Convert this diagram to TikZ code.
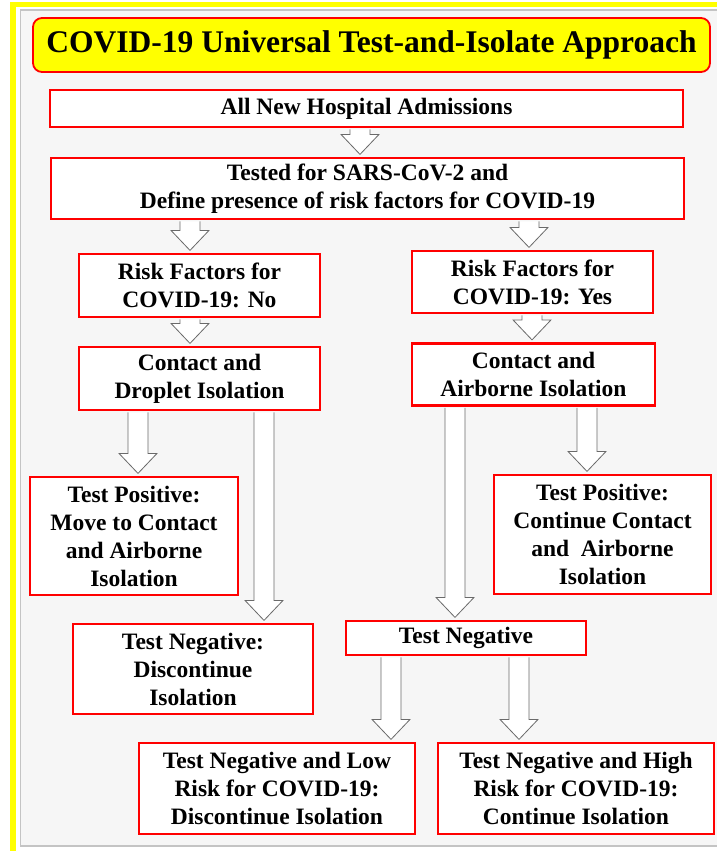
\documentclass[tikz,border=0pt]{standalone}
\usepackage{fontspec}
\setmainfont{Liberation Serif}
\usetikzlibrary{calc}
\definecolor{PanelGray}{HTML}{F6F6F6}
\definecolor{EdgeGray}{HTML}{C4C4C4}
\definecolor{ArrowGray}{HTML}{6A6A6A}
\definecolor{FrameYellow}{HTML}{FFFF00}

% hollow block arrow at x=#1 from node #2 down to node #3
\newcommand\blockarrow[3]{%
  \path[draw=ArrowGray, fill=white, line width=0.8pt, line join=miter]
    let \p1=(#2.south), \p2=(#3.north) in
    ({#1-10}, \y1-1.3pt) -- ({#1-10}, \y2+22.5pt) -- ({#1-19}, \y2+22.5pt)
    -- (#1, \y2+2.5pt) -- ({#1+19}, \y2+22.5pt) -- ({#1+10}, \y2+22.5pt)
    -- ({#1+10}, \y1-1.3pt);}

\begin{document}
\begin{tikzpicture}[x=1pt, y=-1pt,
  box/.style={draw=red, line width=2.2pt, fill=white, align=center, inner sep=0pt,
    font=\rmfamily\fontsize{23.5}{28}\selectfont\bfseries},
  heading/.style={draw=red, line width=1.8pt, fill=FrameYellow, rounded corners=9pt,
    inner sep=0pt, font=\rmfamily\fontsize{31.5}{36}\selectfont\bfseries}]
\useasboundingbox (0,0) rectangle (717,851);
\fill[white] (0,0) rectangle (717,851);
% frame
\fill[FrameYellow] (10,2) rectangle (717,7);
\fill[FrameYellow] (10,2) rectangle (16,851);
\filldraw[fill=PanelGray, draw=EdgeGray, line width=1.2pt] (20.5,10) rectangle (720,846);

\node[heading, minimum width=677pt, minimum height=54pt] (title) at (371.5,45)
  {COVID-19 Universal Test-and-Isolate Approach};

\node[box, minimum width=633pt, minimum height=37pt] (admit) at (366.5,108.5)
  {All New Hospital Admissions};
\node[box, minimum width=633pt, minimum height=61pt] (tested) at (367.5,188.5)
  {Tested for SARS-CoV-2 and\\Define presence of risk factors for COVID-19};
\node[box, minimum width=241pt, minimum height=63pt] (norisk) at (199.5,285.5)
  {Risk Factors for\\COVID-19: No};
\node[box, minimum width=241pt, minimum height=62pt] (yesrisk) at (532.5,282)
  {Risk Factors for\\COVID-19: Yes};
\node[box, minimum width=241pt, minimum height=63pt] (droplet) at (199.5,378.5)
  {Contact and\\Droplet Isolation};
\node[box, minimum width=243pt, minimum height=62pt] (airborne) at (533.5,374.5)
  {Contact and\\Airborne Isolation};
\node[box, minimum width=208pt, minimum height=118pt] (posmove) at (134,536)
  {Test Positive:\\Move to Contact\\and Airborne\\Isolation};
\node[box, minimum width=217pt, minimum height=119pt] (poscont) at (602.5,534.5)
  {Test Positive:\\Continue Contact\\and\ \ Airborne\\Isolation};
\node[box, minimum width=240pt, minimum height=90pt] (negstop) at (193,669)
  {Test Negative:\\Discontinue\\Isolation};
\node[box, minimum width=240pt, minimum height=34pt] (negtest) at (466,638)
  {Test Negative};
\node[box, minimum width=276pt, minimum height=91pt] (lowrisk) at (277,788.5)
  {Test Negative and Low\\Risk for COVID-19:\\Discontinue Isolation};
\node[box, minimum width=276pt, minimum height=91pt] (highrisk) at (576,788.5)
  {Test Negative and High\\Risk for COVID-19:\\Continue Isolation};

\foreach \ax/\src/\dst in {360/admit/tested, 190/tested/norisk, 529/tested/yesrisk,
    190/norisk/droplet, 532/yesrisk/airborne, 138/droplet/posmove, 264/droplet/negstop,
    455/airborne/negtest, 587/airborne/poscont, 391/negtest/lowrisk, 519/negtest/highrisk}
  {\blockarrow{\ax}{\src}{\dst}}
\end{tikzpicture}
\end{document}
